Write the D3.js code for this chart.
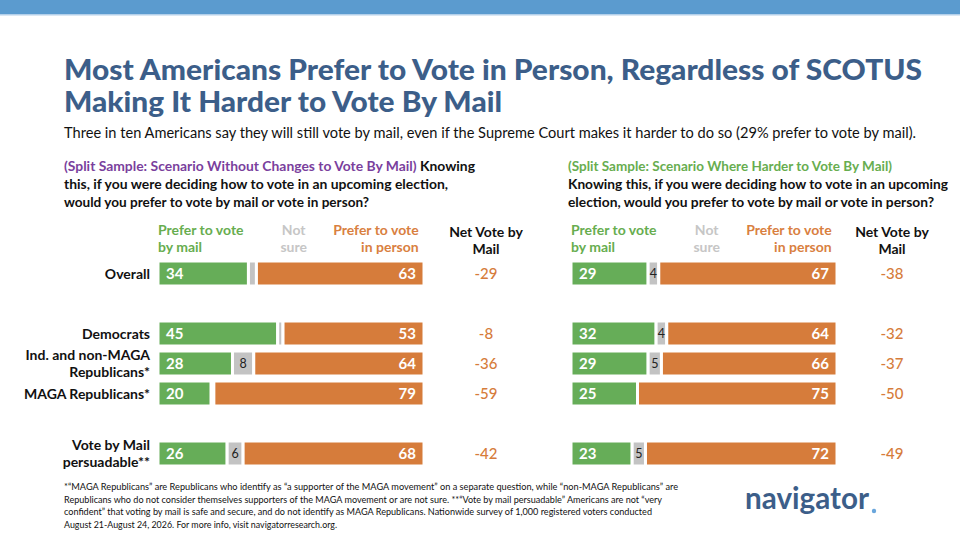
<!DOCTYPE html>
<html>
<head>
<meta charset="utf-8">
<script src="https://cdn.jsdelivr.net/npm/d3@7"></script>
<style>
  body { margin: 0; background: #fff; }
  svg { display: block; font-family: Lato, "Open Sans", sans-serif; }
</style>
</head>
<body>
<div id="chart"></div>
<script>
// rows, top to bottom; groups are separated by an empty row
var rowLabels = [
  ["Overall"],
  ["Democrats"],
  ["Ind. and non-MAGA", "Republicans*"],
  ["MAGA Republicans*"],
  ["Vote by Mail", "persuadable**"]
];
var rowGroups = [0, 1, 1, 1, 2];

var seriesKeys = ["mail", "notSure", "person"];

// left panel: no changes to vote by mail
var noChangeMail = [34, 45, 28, 20, 26];
var noChangeNotSure = [3, 2, 8, 1, 6];
var noChangePerson = [63, 53, 64, 79, 68];

// right panel: harder to vote by mail
var harderMail = [29, 32, 29, 25, 23];
var harderNotSure = [4, 4, 5, 0, 5];
var harderPerson = [67, 64, 66, 75, 72];

var colors = {
  mail: "#66ad58",
  notSure: "#c3c3c3",
  person: "#d67c3b",
  mailText: "#67ad4f",
  notSureText: "#c6c6c6",
  personText: "#d9803f",
  title: "#3c5e89",
  purple: "#7a3f9d"
};

var width = 960, height = 540;

var svg = d3.select("#chart").append("svg")
  .attr("width", width)
  .attr("height", height);

// top band
svg.append("rect").attr("x", 0).attr("y", 0).attr("width", width).attr("height", 14)
  .attr("fill", "#5b9bcf");
svg.append("rect").attr("x", 0).attr("y", 14).attr("width", width).attr("height", 1.5)
  .attr("fill", "#b4d0ea");

// title
var titleLines = [
  { text: "Most Americans Prefer to Vote in Person, Regardless of SCOTUS", y: 80, len: 858 },
  { text: "Making It Harder to Vote By Mail", y: 112, len: 438 }
];
svg.selectAll("text.title").data(titleLines).enter().append("text")
  .attr("class", "title")
  .attr("x", 64).attr("y", function(d) { return d.y; })
  .attr("textLength", function(d) { return d.len; })
  .attr("lengthAdjust", "spacingAndGlyphs")
  .attr("fill", colors.title)
  .style("font-size", "29px").style("font-weight", 900)
  .text(function(d) { return d.text; });

svg.append("text")
  .attr("x", 64).attr("y", 138)
  .attr("textLength", 852).attr("lengthAdjust", "spacingAndGlyphs")
  .attr("fill", "#111")
  .style("font-size", "14.5px")
  .text("Three in ten Americans say they will still vote by mail, even if the Supreme Court makes it harder to do so (29% prefer to vote by mail).");

// question texts
function drawQuestion(x, lines) {
  var t = svg.append("g");
  lines.forEach(function(line, i) {
    var text = t.append("text")
      .attr("x", x).attr("y", 171 + i * 18)
      .attr("textLength", line.len).attr("lengthAdjust", "spacingAndGlyphs")
      .style("font-size", "14px").style("font-weight", 700);
    line.parts.forEach(function(p) {
      text.append("tspan").attr("fill", p.color).text(p.text);
    });
  });
}

drawQuestion(64, [
  { len: 411, parts: [
    { text: "(Split Sample: Scenario Without Changes to Vote By Mail)", color: colors.purple },
    { text: " Knowing", color: "#111" }] },
  { len: 384, parts: [{ text: "this, if you were deciding how to vote in an upcoming election,", color: "#111" }] },
  { len: 305, parts: [{ text: "would you prefer to vote by mail or vote in person?", color: "#111" }] }
]);

drawQuestion(568, [
  { len: 324, parts: [{ text: "(Split Sample: Scenario Where Harder to Vote By Mail)", color: colors.mailText }] },
  { len: 380, parts: [{ text: "Knowing this, if you were deciding how to vote in an upcoming", color: "#111" }] },
  { len: 366, parts: [{ text: "election, would you prefer to vote by mail or vote in person?", color: "#111" }] }
]);

// y scale: one band per row plus an empty band between groups
var slots = [];
rowLabels.forEach(function(l, i) {
  if (i > 0 && rowGroups[i] !== rowGroups[i - 1]) slots.push("gap" + i);
  slots.push("row" + i);
});

var y = d3.scaleBand()
  .domain(slots)
  .range([261, 466])
  .paddingInner(5 / 30)
  .paddingOuter(0);

// row labels
var labelG = svg.append("g");
rowLabels.forEach(function(lines, i) {
  var cy = y("row" + i) + y.bandwidth() / 2;
  var text = labelG.append("text")
    .attr("text-anchor", "end")
    .attr("fill", "#111")
    .style("font-size", "14px").style("font-weight", 700);
  lines.forEach(function(line, j) {
    text.append("tspan")
      .attr("x", 150)
      .attr("y", cy + 5 + (j - (lines.length - 1) / 2) * 16.5)
      .text(line);
  });
});

function drawPanel(x0, x1, netX, mail, notSure, person) {
  var x = d3.scaleLinear().domain([0, 100]).range([x0, x1]);
  var g = svg.append("g");

  var rows = mail.map(function(m, i) {
    return { row: i, mail: m, notSure: notSure[i], person: person[i] };
  });
  var stacked = d3.stack().keys(seriesKeys)(rows);

  // headers
  var head = g.append("g").style("font-size", "14px").style("font-weight", 700);
  var mailHead = head.append("text").attr("fill", colors.mailText);
  mailHead.append("tspan").attr("x", x(0)).attr("y", 235).text("Prefer to vote");
  mailHead.append("tspan").attr("x", x(0)).attr("y", 252).text("by mail");

  var nsHead = head.append("text").attr("fill", colors.notSureText).attr("text-anchor", "middle");
  nsHead.append("tspan").attr("x", x(51)).attr("y", 235).text("Not");
  nsHead.append("tspan").attr("x", x(51)).attr("y", 252).text("sure");

  var pHead = head.append("text").attr("fill", colors.personText).attr("text-anchor", "end");
  pHead.append("tspan").attr("x", x(98)).attr("y", 235).text("Prefer to vote");
  pHead.append("tspan").attr("x", x(98)).attr("y", 252).text("in person");

  var netHead = head.append("text").attr("fill", "#111").attr("text-anchor", "middle");
  netHead.append("tspan").attr("x", netX).attr("y", 237).text("Net Vote by");
  netHead.append("tspan").attr("x", netX).attr("y", 254).text("Mail");

  // bars
  var layers = g.selectAll("g.layer").data(stacked).enter().append("g")
    .attr("class", "layer")
    .attr("fill", function(d) { return colors[d.key]; });

  layers.selectAll("rect").data(function(d) { return d.filter(function(p) { return p[1] > p[0]; }); })
    .enter().append("rect")
    .attr("x", function(d) { return x(d[0]); })
    .attr("width", function(d) { return x(d[1]) - x(d[0]); })
    .attr("y", function(d) { return y("row" + d.data.row); })
    .attr("height", y.bandwidth())
    .attr("stroke", "#fff")
    .attr("stroke-width", 3);

  function mid(d) { return y("row" + d.row) + y.bandwidth() / 2 + 5; }

  g.selectAll("text.mail").data(rows).enter().append("text")
    .attr("x", x(0) + 8).attr("y", mid)
    .attr("fill", "#fff")
    .style("font-size", "15px").style("font-weight", 700)
    .text(function(d) { return d.mail; });

  g.selectAll("text.person").data(rows).enter().append("text")
    .attr("x", x(100) - 8).attr("y", mid)
    .attr("text-anchor", "end")
    .attr("fill", "#fff")
    .style("font-size", "15px").style("font-weight", 700)
    .text(function(d) { return d.person; });

  g.selectAll("text.ns").data(rows.filter(function(d) { return d.notSure >= 4; })).enter().append("text")
    .attr("x", function(d) { return x(d.mail + d.notSure / 2); })
    .attr("y", function(d) { return mid(d) - 0.5; })
    .attr("text-anchor", "middle")
    .attr("fill", "#222")
    .style("font-size", "12.5px")
    .text(function(d) { return d.notSure; });

  // net = by mail minus in person, written with a plain hyphen
  g.selectAll("text.net").data(rows).enter().append("text")
    .attr("x", netX).attr("y", mid)
    .attr("text-anchor", "middle")
    .attr("fill", colors.person)
    .style("font-size", "15px").style("font-weight", 500)
    .text(function(d) { return String(d.mail - d.person); });
}

drawPanel(158, 424, 486, noChangeMail, noChangeNotSure, noChangePerson);
drawPanel(571, 837, 892, harderMail, harderNotSure, harderPerson);

// footnote
var footLines = [
  { text: "*\u201CMAGA Republicans\u201D are Republicans who identify as \u201Ca supporter of the MAGA movement\u201D on a separate question, while \u201Cnon-MAGA Republicans\u201D are", len: 614 },
  { text: "Republicans who do not consider themselves supporters of the MAGA movement or are not sure. **\u201CVote by mail persuadable\u201D Americans are not \u201Cvery", len: 598 },
  { text: "confident\u201D that voting by mail is safe and secure, and do not identify as MAGA Republicans. Nationwide survey of 1,000 registered voters conducted", len: 588 },
  { text: "August 21-August 24, 2026. For more info, visit navigatorresearch.org.", len: 273 }
];
svg.selectAll("text.foot").data(footLines).enter().append("text")
  .attr("class", "foot")
  .attr("x", 64).attr("y", function(d, i) { return 490 + i * 12.5; })
  .attr("textLength", function(d) { return d.len; })
  .attr("lengthAdjust", "spacingAndGlyphs")
  .attr("fill", "#111")
  .style("font-size", "10px")
  .text(function(d) { return d.text; });

// logo
svg.append("text")
  .attr("x", 745).attr("y", 509)
  .attr("textLength", 124).attr("lengthAdjust", "spacingAndGlyphs")
  .attr("fill", colors.title)
  .style("font-size", "31px").style("font-weight", 700)
  .text("navigator");
svg.append("circle")
  .attr("cx", 874).attr("cy", 511).attr("r", 2.2)
  .attr("fill", "#6aa6dc");
</script>
</body>
</html>
